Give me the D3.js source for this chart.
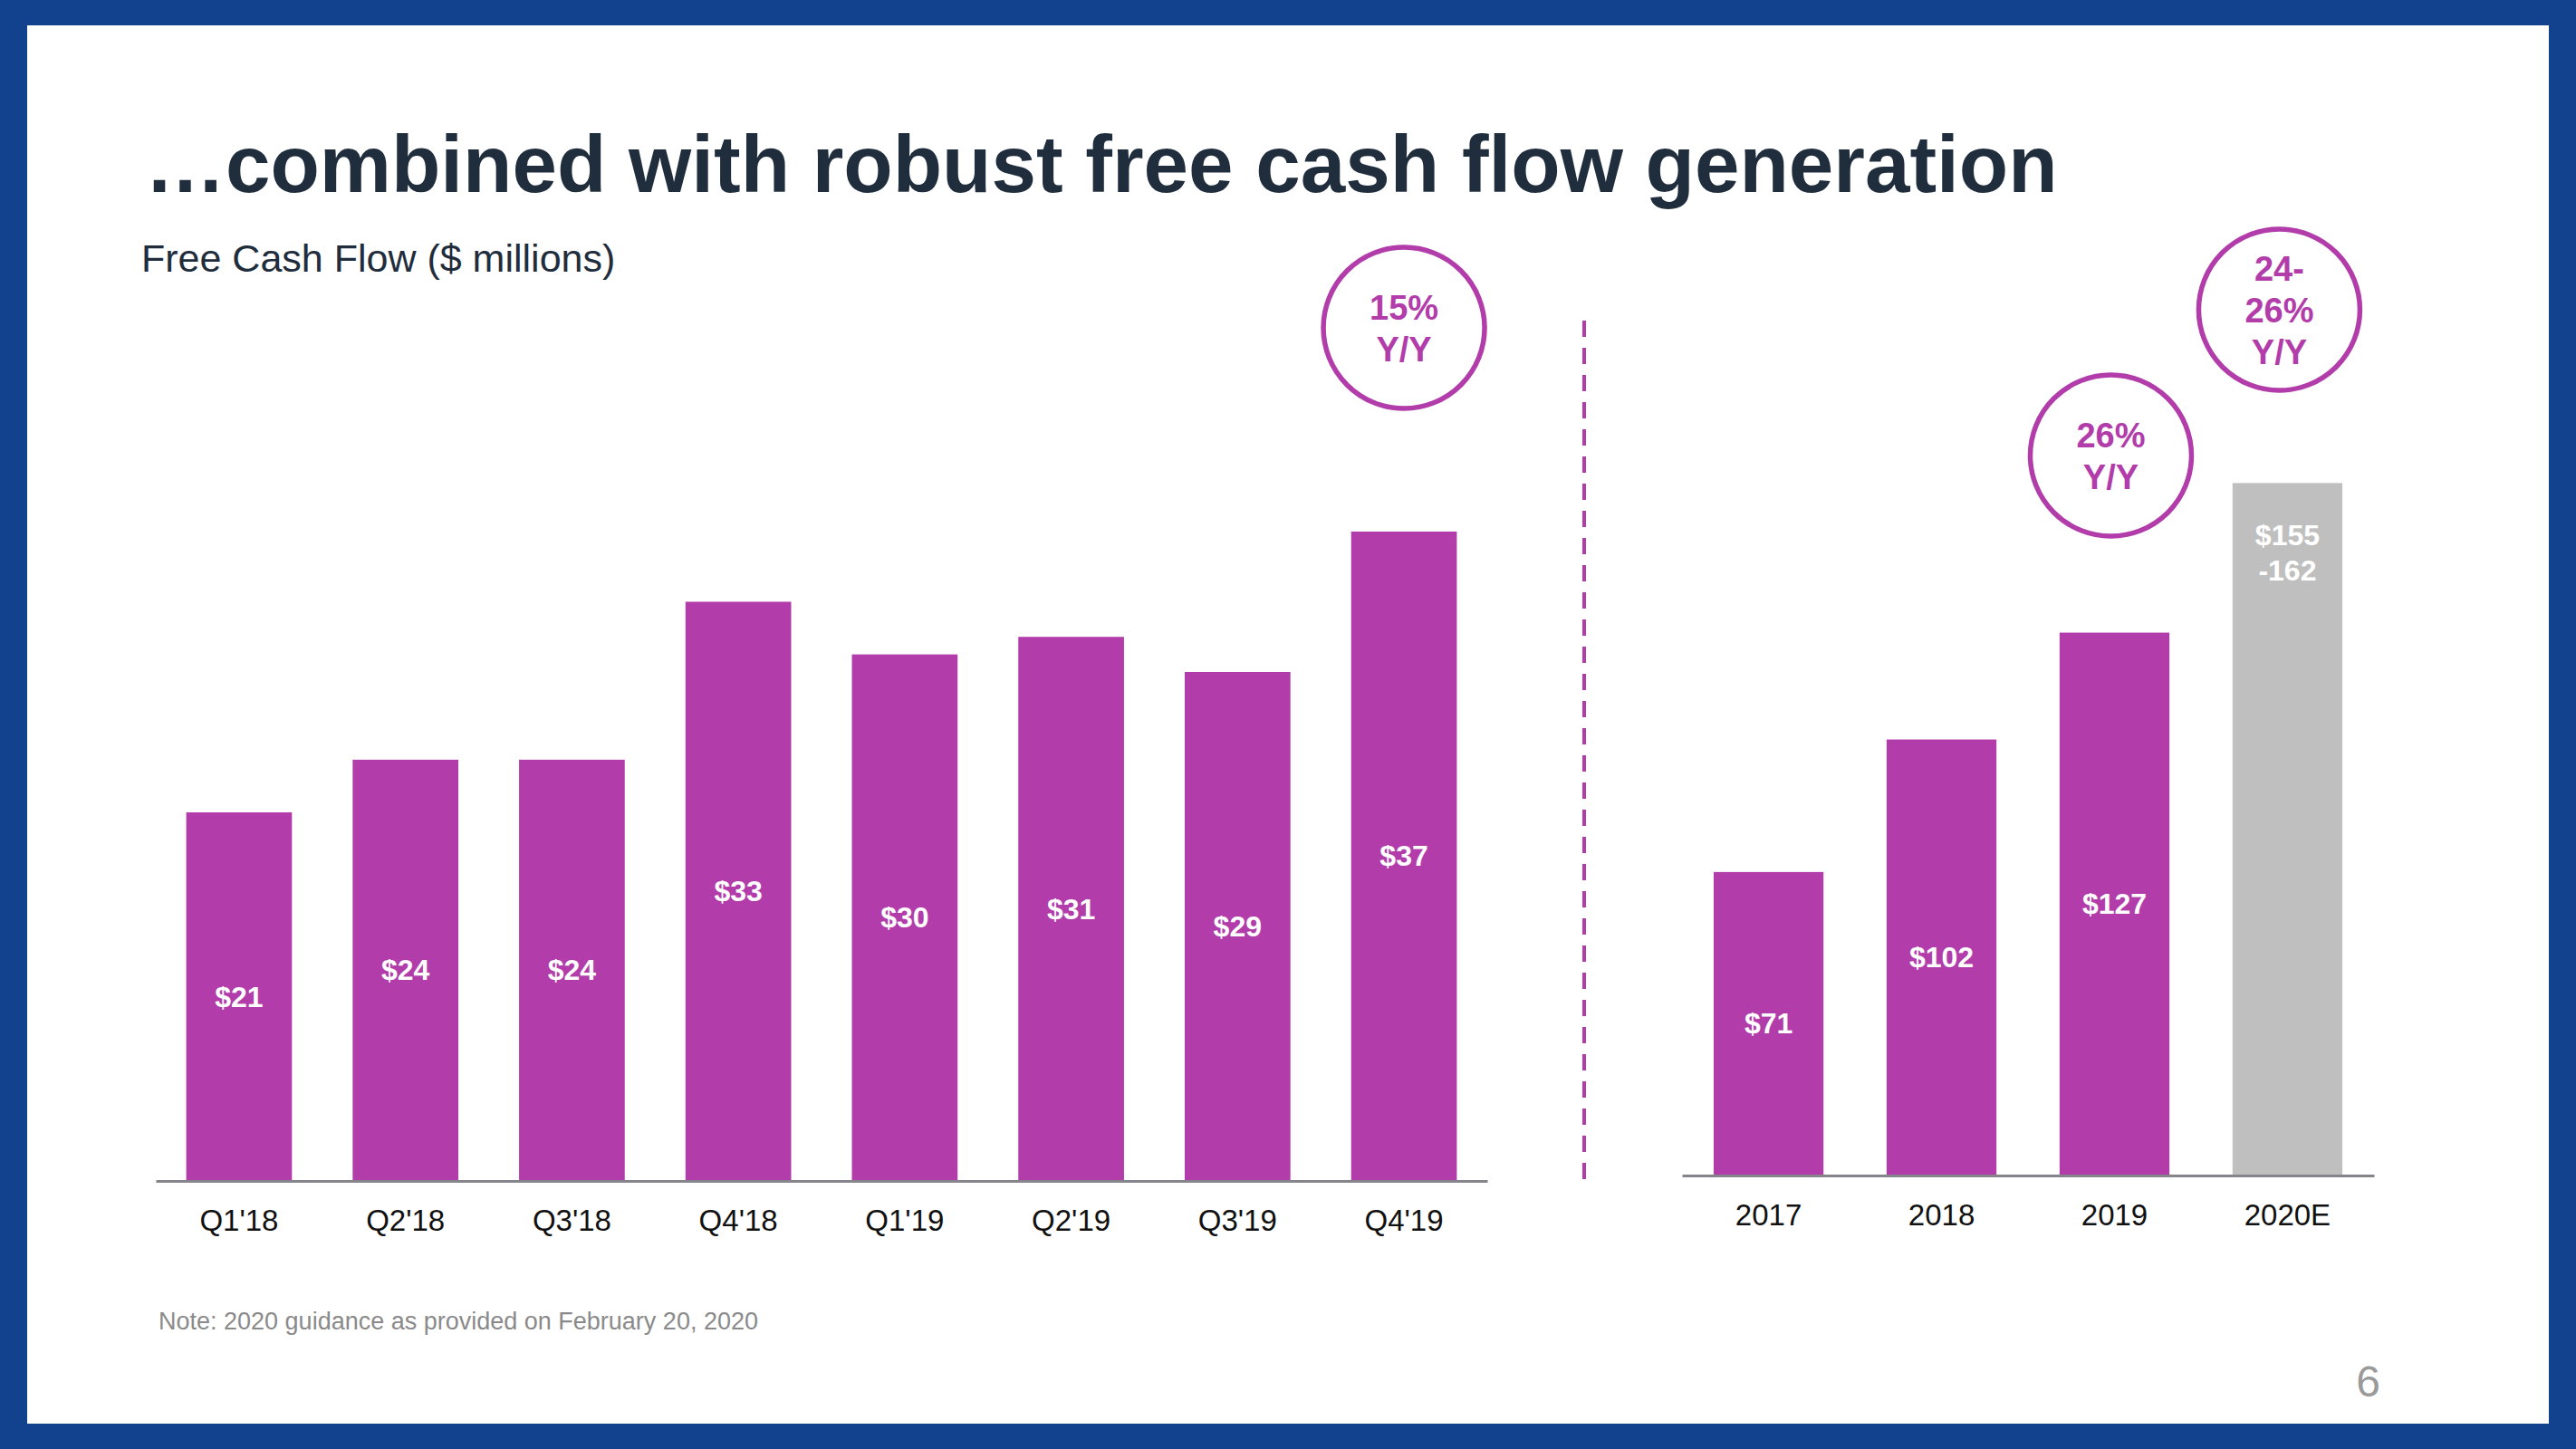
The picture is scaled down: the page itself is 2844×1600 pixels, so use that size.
<!DOCTYPE html>
<html><head><meta charset="utf-8">
<script src="https://cdn.jsdelivr.net/npm/d3@7/dist/d3.min.js"></script>
<style>html,body{margin:0;padding:0;background:#fff;}svg{display:block;}</style>
</head><body>
<script>
// ---- data ----
const quarters = ["Q1'18","Q2'18","Q3'18","Q4'18","Q1'19","Q2'19","Q3'19","Q4'19"];
const quarterValues = [21,24,24,33,30,31,29,37];
const quarterLabels = ["$21","$24","$24","$33","$30","$31","$29","$37"];
const years = ["2017","2018","2019","2020E"];
const yearValues = [71,102,127,162];
const yearLabels = [["$71"],["$102"],["$127"],["$155","-162"]];
const yearIsEstimate = [false,false,false,true];
const growthBadges = [
  {panel:"q", cat:"Q4'19", lines:["15%","Y/Y"]},
  {panel:"y", cat:"2019", lines:["26%","Y/Y"]},
  {panel:"y", cat:"2020E", lines:["24-","26%","Y/Y"]}
];

const W=2844,H=1600;
const PURPLE="#b13caa", GRAY="#bfbfbf", NAVY="#1f2d3d", BLUE="#12428d";
const svg=d3.select("body").append("svg").attr("width",W).attr("height",H);

// frame
svg.append("rect").attr("width",W).attr("height",H).attr("fill",BLUE);
svg.append("rect").attr("x",30).attr("y",28).attr("width",2784).attr("height",1544).attr("fill","#fff");

// title
svg.append("text").attr("x",160).attr("y",212).attr("fill",NAVY)
  .attr("font-family","Liberation Sans, Arial, sans-serif").attr("font-weight","bold")
  .attr("font-size",89).text("\u2026combined with robust free cash flow generation");
svg.append("text").attr("x",156).attr("y",300).attr("fill",NAVY)
  .attr("font-family","Liberation Sans, Arial, sans-serif")
  .attr("font-size",43).text("Free Cash Flow ($ millions)");

// ---- left panel ----
const xq=d3.scaleBand().domain(quarters).range([172,1642]).paddingInner(0.365).paddingOuter(0.183);
const yq=d3.scaleLinear().domain([0,40]).range([1304,1304-40*19.38]);
const gq=svg.append("g");
gq.selectAll("rect").data(quarters).join("rect")
  .attr("x",d=>xq(d)).attr("width",xq.bandwidth())
  .attr("y",(d,i)=>yq(quarterValues[i])).attr("height",(d,i)=>yq(0)-yq(quarterValues[i]))
  .attr("fill",PURPLE);
gq.selectAll("text.v").data(quarters).join("text").attr("class","v")
  .attr("x",d=>xq(d)+xq.bandwidth()/2)
  .attr("y",(d,i)=>(yq(0)+yq(quarterValues[i]))/2+11)
  .attr("text-anchor","middle").attr("fill","#fff")
  .attr("font-family","Liberation Sans, Arial, sans-serif").attr("font-weight","bold").attr("font-size",32)
  .text((d,i)=>quarterLabels[i]);
const axq=svg.append("g").attr("transform",`translate(0,${yq(0)})`)
  .call(d3.axisBottom(xq).tickSize(0).tickSizeOuter(0).tickPadding(32));
styleAxis(axq);

// ---- right panel ----
const xy=d3.scaleBand().domain(years).range([1857,2621]).paddingInner(0.365).paddingOuter(0.183);
const yy=d3.scaleLinear().domain([0,170]).range([1298,1298-170*4.72]);
const gy=svg.append("g");
gy.selectAll("rect").data(years).join("rect")
  .attr("x",d=>xy(d)).attr("width",xy.bandwidth())
  .attr("y",(d,i)=>yy(yearValues[i])).attr("height",(d,i)=>yy(0)-yy(yearValues[i]))
  .attr("fill",(d,i)=>yearIsEstimate[i]?GRAY:PURPLE);
years.forEach((d,i)=>{
  const lines=yearLabels[i];
  const cx=xy(d)+xy.bandwidth()/2;
  const y0 = yearIsEstimate[i] ? yy(yearValues[i])+69 : (yy(0)+yy(yearValues[i]))/2+11;
  const t=gy.append("text").attr("x",cx).attr("y",y0).attr("text-anchor","middle").attr("fill","#fff")
    .attr("font-family","Liberation Sans, Arial, sans-serif").attr("font-weight","bold").attr("font-size",32);
  lines.forEach((l,j)=>t.append("tspan").attr("x",cx).attr("dy",j?39:0).text(l));
});
const axy=svg.append("g").attr("transform",`translate(0,${yy(0)})`)
  .call(d3.axisBottom(xy).tickSize(0).tickSizeOuter(0).tickPadding(32));
styleAxis(axy);

function styleAxis(g){
  g.select(".domain").attr("stroke","#86848b").attr("stroke-width",3);
  g.selectAll(".tick text").attr("fill","#111").attr("font-size",33)
    .attr("font-family","Liberation Sans, Arial, sans-serif");
}

// divider
svg.append("line").attr("x1",1749).attr("x2",1749).attr("y1",354).attr("y2",1306)
  .attr("stroke",PURPLE).attr("stroke-width",4).attr("stroke-dasharray","18,12");

// growth badges
const badgeY={"Q4'19":362,"2019":503,"2020E":342};
growthBadges.forEach(b=>{
  const sc=b.panel==="q"?xq:xy;
  const cx=sc(b.cat)+sc.bandwidth()/2 - (b.cat==="2020E"?9:(b.cat==="2019"?4:0));
  const cy=badgeY[b.cat];
  svg.append("circle").attr("cx",cx).attr("cy",cy).attr("r",89)
    .attr("fill","#fff").attr("stroke",PURPLE).attr("stroke-width",5.5);
  const n=b.lines.length, lh=46;
  const t=svg.append("text").attr("text-anchor","middle").attr("fill",PURPLE)
    .attr("font-family","Liberation Sans, Arial, sans-serif").attr("font-weight","bold").attr("font-size",38);
  b.lines.forEach((l,j)=>t.append("tspan").attr("x",cx)
    .attr("y",cy-(n-1)*lh/2+j*lh+14).text(l));
});

// note and page number
svg.append("text").attr("x",175).attr("y",1468).attr("fill","#8a8a8a")
  .attr("font-family","Liberation Sans, Arial, sans-serif").attr("font-size",27)
  .text("Note: 2020 guidance as provided on February 20, 2020");
svg.append("text").attr("x",2628).attr("y",1542).attr("text-anchor","end").attr("fill","#9a9a9a")
  .attr("font-family","Liberation Sans, Arial, sans-serif").attr("font-size",48).text("6");
</script>
</body></html>
